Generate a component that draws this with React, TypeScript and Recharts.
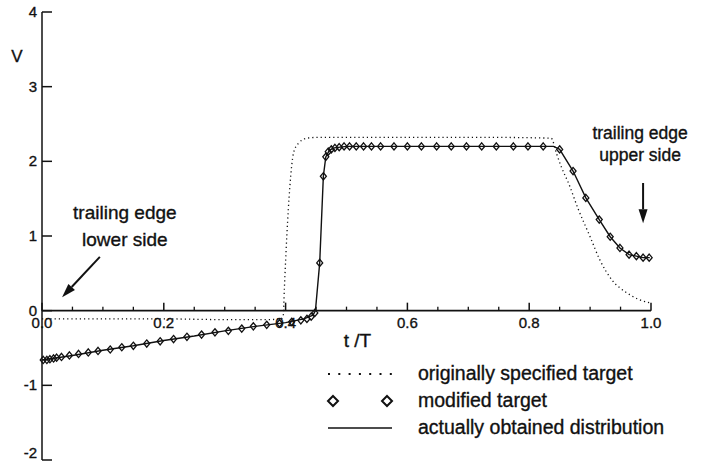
import React from 'react';
import {
  ComposedChart,
  Line,
  Scatter,
  XAxis,
  YAxis,
  ReferenceLine,
  ReferenceDot,
  Legend,
} from 'recharts';

const FONT = '"Liberation Sans", Arial, Helvetica, sans-serif';
const INK = '#111';
const TEXT_STROKE = 0.35;

// originally specified target (dotted)
const origT = [0, 0.1, 0.2, 0.3, 0.37, 0.392, 0.396, 0.398, 0.402, 0.407, 0.413, 0.421, 0.435, 0.45, 0.6, 0.75, 0.836, 0.845, 0.853, 0.865, 0.88, 0.9, 0.916, 0.936, 0.96, 0.98, 1.0];
const origV = [-0.11, -0.11, -0.11, -0.12, -0.12, -0.11, -0.08, 0.3, 1.0, 1.66, 2.11, 2.24, 2.31, 2.32, 2.32, 2.32, 2.31, 2.1, 1.92, 1.7, 1.37, 0.99, 0.68, 0.41, 0.24, 0.15, 0.1];

// modified target (diamonds)
const modT = [0.002, 0.008, 0.013, 0.019, 0.024, 0.032, 0.045, 0.06, 0.076, 0.092, 0.112, 0.131, 0.15, 0.172, 0.194, 0.216, 0.238, 0.262, 0.284, 0.306, 0.328, 0.347, 0.369, 0.39, 0.41, 0.425, 0.435, 0.442, 0.448, 0.456, 0.462, 0.466, 0.47, 0.475, 0.481, 0.488, 0.496, 0.505, 0.516, 0.528, 0.541, 0.556, 0.578, 0.6, 0.623, 0.648, 0.672, 0.697, 0.722, 0.746, 0.774, 0.798, 0.823, 0.85, 0.872, 0.893, 0.915, 0.933, 0.949, 0.964, 0.976, 0.987, 0.997];
const modV = [-0.66, -0.66, -0.65, -0.64, -0.63, -0.62, -0.6, -0.58, -0.56, -0.54, -0.52, -0.49, -0.47, -0.44, -0.41, -0.38, -0.35, -0.32, -0.29, -0.27, -0.24, -0.21, -0.19, -0.17, -0.15, -0.13, -0.11, -0.08, -0.03, 0.64, 1.8, 2.06, 2.13, 2.16, 2.18, 2.19, 2.2, 2.2, 2.2, 2.2, 2.2, 2.2, 2.2, 2.2, 2.2, 2.2, 2.2, 2.2, 2.2, 2.2, 2.2, 2.2, 2.2, 2.16, 1.87, 1.51, 1.22, 0.99, 0.84, 0.75, 0.73, 0.71, 0.71];

// actually obtained distribution (solid)
const obtT = [0, 0.05, 0.1, 0.15, 0.2, 0.25, 0.3, 0.35, 0.4, 0.43, 0.445, 0.449, 0.456, 0.462, 0.466, 0.472, 0.48, 0.5, 0.6, 0.7, 0.8, 0.84, 0.85, 0.872, 0.893, 0.915, 0.933, 0.949, 0.964, 0.976, 0.987, 0.998];
const obtV = [-0.66, -0.6, -0.53, -0.47, -0.4, -0.34, -0.27, -0.21, -0.16, -0.11, -0.06, 0.0, 0.64, 1.8, 2.06, 2.15, 2.18, 2.2, 2.2, 2.2, 2.2, 2.2, 2.16, 1.87, 1.51, 1.22, 0.99, 0.84, 0.75, 0.73, 0.71, 0.71];

const yTicks = [-2, -1, 0, 1, 2, 3, 4];
const yTickLabels = ['-2', '-1', '0', '1', '2', '3', '4'];
const xMajorTicks = [0, 0.2, 0.4, 0.6, 0.8, 1.0];
const xMajorLabels = ['0.0', '0.2', '0.4', '0.6', '0.8', '1.0'];
const xMinorTicks = [0.05, 0.1, 0.15, 0.25, 0.3, 0.35, 0.45, 0.5, 0.55, 0.65, 0.7, 0.75, 0.85, 0.9, 0.95];

const legendLabels = ['originally specified target', 'modified target', 'actually obtained distribution'];
const xTitle = 't /T';
const yTitle = 'V';
const upperNote = ['trailing edge', 'upper side'];
const lowerNote = ['trailing edge', 'lower side'];
const upperArrow = [{ x: 0.987, y: 1.71 }, { x: 0.987, y: 1.17 }];
const lowerArrow = [{ x: 0.095, y: 0.72 }, { x: 0.033, y: 0.18 }];

const zip = (ts: number[], vs: number[]) => ts.map((t, i) => ({ t, v: vs[i] }));
const origData = zip(origT, origV);
const modData = zip(modT, modV);
const obtData = zip(obtT, obtV);

const txtProps = (size: number) => ({
  fontSize: size,
  fontFamily: FONT,
  fill: INK,
  stroke: INK,
  strokeWidth: TEXT_STROKE,
});

const Diamond = (p: any) => {
  const { cx, cy } = p;
  if (cx == null || cy == null) return null;
  return (
    <polygon
      points={`${cx},${cy - 3.6} ${cx + 3},${cy} ${cx},${cy + 3.6} ${cx - 3},${cy}`}
      fill="none"
      stroke={INK}
      strokeWidth={1.3}
    />
  );
};

const YTick = (p: any) => {
  const { x, y, payload } = p;
  const idx = yTicks.indexOf(payload.value);
  return (
    <g>
      <line x1={x} y1={y} x2={x + 10} y2={y} stroke={INK} strokeWidth={1.5} />
      <text x={x - 5} y={Math.min(y + 5, 458)} textAnchor="end" {...txtProps(15)}>
        {yTickLabels[idx]}
      </text>
    </g>
  );
};

const majorTick = (label: string) => (p: any) => (
  <g>
    <line x1={p.cx} y1={p.cy} x2={p.cx} y2={p.cy - 8} stroke={INK} strokeWidth={1.5} />
    <text x={p.cx} y={p.cy + 17} textAnchor="middle" {...txtProps(15)}>
      {label}
    </text>
  </g>
);

const minorTick = (p: any) => (
  <line x1={p.cx} y1={p.cy} x2={p.cx} y2={p.cy - 4} stroke={INK} strokeWidth={1.3} />
);

const textAt = (txt: string, dx: number, dy: number, size: number) => (p: any) => (
  <text x={p.cx + dx} y={p.cy + dy} textAnchor="middle" {...txtProps(size)}>
    {txt}
  </text>
);

const arrowShape = (lines: string[], dx: number, dy1: number, dy2: number, size: number) => (p: any) => {
  const { x1, y1, x2, y2 } = p;
  if ([x1, y1, x2, y2].some((v) => v == null || Number.isNaN(v))) return null;
  const ang = Math.atan2(y2 - y1, x2 - x1);
  const L = 14;
  const W = 4.5;
  const bx = x2 - L * Math.cos(ang);
  const by = y2 - L * Math.sin(ang);
  const px = -Math.sin(ang) * W;
  const py = Math.cos(ang) * W;
  return (
    <g>
      <line x1={x1} y1={y1} x2={bx} y2={by} stroke={INK} strokeWidth={2} />
      <polygon points={`${x2},${y2} ${bx + px},${by + py} ${bx - px},${by - py}`} fill={INK} />
      <text x={x1 + dx} y={y1 + dy1} textAnchor="middle" {...txtProps(size)}>
        {lines[0]}
      </text>
      <text x={x1 + dx} y={y1 + dy2} textAnchor="middle" {...txtProps(size)}>
        {lines[1]}
      </text>
    </g>
  );
};

const legendIcon = (i: number) => {
  if (i === 0) {
    return <line x1={8} y1={14} x2={72} y2={14} stroke={INK} strokeWidth={1.8} strokeDasharray="2 8.3" />;
  }
  if (i === 1) {
    return (
      <g fill="none" stroke={INK} strokeWidth={2}>
        <polygon points="13,9 18,14 13,19 8,14" />
        <polygon points="67,9 72,14 67,19 62,14" />
      </g>
    );
  }
  return <line x1={8} y1={14} x2={72} y2={14} stroke={INK} strokeWidth={1.6} />;
};

const LegendBox = () => (
  <div style={{ fontFamily: FONT, fontSize: 19.5, color: INK, WebkitTextStroke: `${TEXT_STROKE}px ${INK}` }}>
    {legendLabels.map((lab, i) => (
      <div key={lab} style={{ display: 'flex', alignItems: 'center', height: 27 }}>
        <svg width={98} height={27} style={{ flex: 'none' }}>
          {legendIcon(i)}
        </svg>
        <span style={{ whiteSpace: 'nowrap', lineHeight: '27px' }}>{lab}</span>
      </div>
    ))}
  </div>
);

export default function App() {
  return (
    <div style={{ position: 'absolute', left: 0, top: 0, width: 711, height: 462, background: '#fff', overflow: 'hidden' }}>
      <ComposedChart width={711} height={462} margin={{ top: 12, right: 60, bottom: 2, left: 0 }}>
        <XAxis type="number" dataKey="t" domain={[0, 1]} hide />
        <YAxis
          type="number"
          dataKey="v"
          domain={[-2, 4]}
          ticks={yTicks}
          interval={0}
          width={42}
          axisLine={{ stroke: INK, strokeWidth: 1.5 }}
          tickLine={false}
          tickSize={0}
          tickMargin={0}
          tick={(p: any) => <YTick {...p} />}
        />
        <ReferenceLine y={0} stroke={INK} strokeWidth={1.6} />
        {xMinorTicks.map((t) => (
          <ReferenceDot key={'mn' + t} x={t} y={0} r={0} shape={minorTick} />
        ))}
        {xMajorTicks.map((t, i) => (
          <ReferenceDot key={'mj' + t} x={t} y={0} r={0} shape={majorTick(xMajorLabels[i])} />
        ))}
        <ReferenceDot x={0.518} y={0} r={0} shape={textAt(xTitle, 0, 36, 19)} />
        <ReferenceDot x={0} y={3.334} r={0} shape={textAt(yTitle, -25, 0, 17)} />
        <Line
          data={origData}
          dataKey="v"
          type="monotone"
          stroke={INK}
          strokeWidth={1.3}
          strokeDasharray="1.2 3"
          dot={false}
          isAnimationActive={false}
          name="originally specified target"
        />
        <Line
          data={obtData}
          dataKey="v"
          type="linear"
          stroke={INK}
          strokeWidth={1.4}
          dot={false}
          isAnimationActive={false}
          name="actually obtained distribution"
        />
        <Scatter data={modData} dataKey="v" shape={Diamond} isAnimationActive={false} name="modified target" />
        <ReferenceLine segment={upperArrow} stroke={INK} shape={arrowShape(upperNote, -3, -44, -22, 17.5)} />
        <ReferenceLine segment={lowerArrow} stroke={INK} shape={arrowShape(lowerNote, 25, -38, -11, 19)} />
        <Legend
          layout="horizontal"
          verticalAlign="middle"
          align="center"
          wrapperStyle={{ left: 320, top: 360, width: 390, height: 84 }}
          content={() => <LegendBox />}
        />
      </ComposedChart>
    </div>
  );
}
